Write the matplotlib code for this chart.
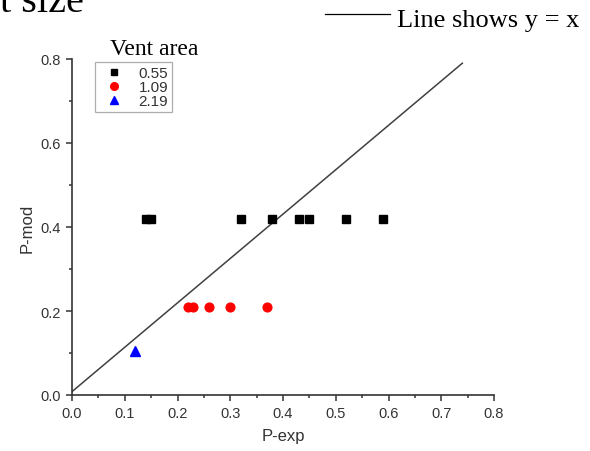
import matplotlib
matplotlib.use("Agg")
import matplotlib.pyplot as plt
from matplotlib.ticker import MultipleLocator, FormatStrFormatter
from matplotlib.lines import Line2D

# P-exp / P-mod per vent area
exp_055 = [0.14, 0.15, 0.32, 0.38, 0.43, 0.45, 0.52, 0.59]
mod_055 = [0.42, 0.42, 0.42, 0.42, 0.42, 0.42, 0.42, 0.42]
exp_109 = [0.22, 0.23, 0.26, 0.30, 0.37]
mod_109 = [0.21, 0.21, 0.21, 0.21, 0.21]
exp_219 = [0.12]
mod_219 = [0.105]

# reference line ends
ref_x = [0.0, 0.74]
ref_y = [0.008, 0.79]

vent_labels = ["0.55", "1.09", "2.19"]

sans = ["Liberation Sans", "DejaVu Sans"]
serif = ["Liberation Serif", "DejaVu Serif"]
axcol = "#333333"

fig = plt.figure(figsize=(5.9, 4.52), dpi=100)
ax = fig.add_axes([72 / 590, 1 - 396 / 452, 422 / 590, 336 / 452])

ax.plot(ref_x, ref_y, color="#404040", lw=1.1, zorder=2)
ax.plot(exp_055, mod_055, "s", color="black", ms=5.5, ls="none", zorder=3)
ax.plot(exp_109, mod_109, "o", color="#ff0000", ms=6.3, ls="none", zorder=3)
ax.plot(exp_219, mod_219, "^", color="#0000ff", ms=6.5, ls="none", zorder=3)

ax.set_xlim(0, 0.8)
ax.set_ylim(0, 0.8)
ax.xaxis.set_major_locator(MultipleLocator(0.1))
ax.xaxis.set_minor_locator(MultipleLocator(0.05))
ax.yaxis.set_major_locator(MultipleLocator(0.2))
ax.yaxis.set_minor_locator(MultipleLocator(0.1))

for side in ("top", "right"):
    ax.spines[side].set_visible(False)
for side in ("left", "bottom"):
    ax.spines[side].set_color(axcol)
    ax.spines[side].set_linewidth(1.2)
ax.tick_params(which="major", direction="out", length=4.5, width=1.1, color=axcol,
               labelsize=10.5, labelcolor=axcol)
ax.tick_params(which="minor", direction="out", length=2.5, width=1.1, color=axcol)
for lab in ax.get_xticklabels() + ax.get_yticklabels():
    lab.set_family(sans)
ax.xaxis.set_major_formatter(FormatStrFormatter("%.1f"))
ax.yaxis.set_major_formatter(FormatStrFormatter("%.1f"))

ax.set_xlabel("P-exp", family=sans, fontsize=12, color=axcol, labelpad=6)
ax.set_ylabel("P-mod", family=sans, fontsize=12, color=axcol, labelpad=4)

handles = [
    Line2D([], [], marker="s", color="black", ms=5, ls="none"),
    Line2D([], [], marker="o", color="#ff0000", ms=5.5, ls="none"),
    Line2D([], [], marker="^", color="#0000ff", ms=6, ls="none"),
]
leg = ax.legend(handles, vent_labels, loc="upper left", bbox_to_anchor=(95 / 590, 1 - 63 / 452),
                bbox_transform=fig.transFigure, prop={"family": sans, "size": 11},
                frameon=True, fancybox=False, edgecolor="#999999", handlelength=2.0,
                handletextpad=0.6, borderpad=0.25, borderaxespad=0,
                labelspacing=0.0, handleheight=0.6)
leg.get_frame().set_linewidth(0.9)
for t in leg.get_texts():
    t.set_color(axcol)

fig.text(110 / 590, 1 - 55 / 452, "Vent area", family=serif, fontsize=17,
         ha="left", va="baseline")

# header pieces
fig.add_artist(Line2D([325 / 590, 390 / 590], [1 - 15 / 452, 1 - 15 / 452],
                      color="black", lw=0.9))
fig.text(397 / 590, 1 - 27 / 452, "Line shows y = x", family=serif, fontsize=19,
         ha="left", va="baseline")
fig.text(84 / 590, 1 - 12 / 452, "t size", family=serif, fontsize=29,
         ha="right", va="baseline")

fig.savefig("out.png", dpi=100)
